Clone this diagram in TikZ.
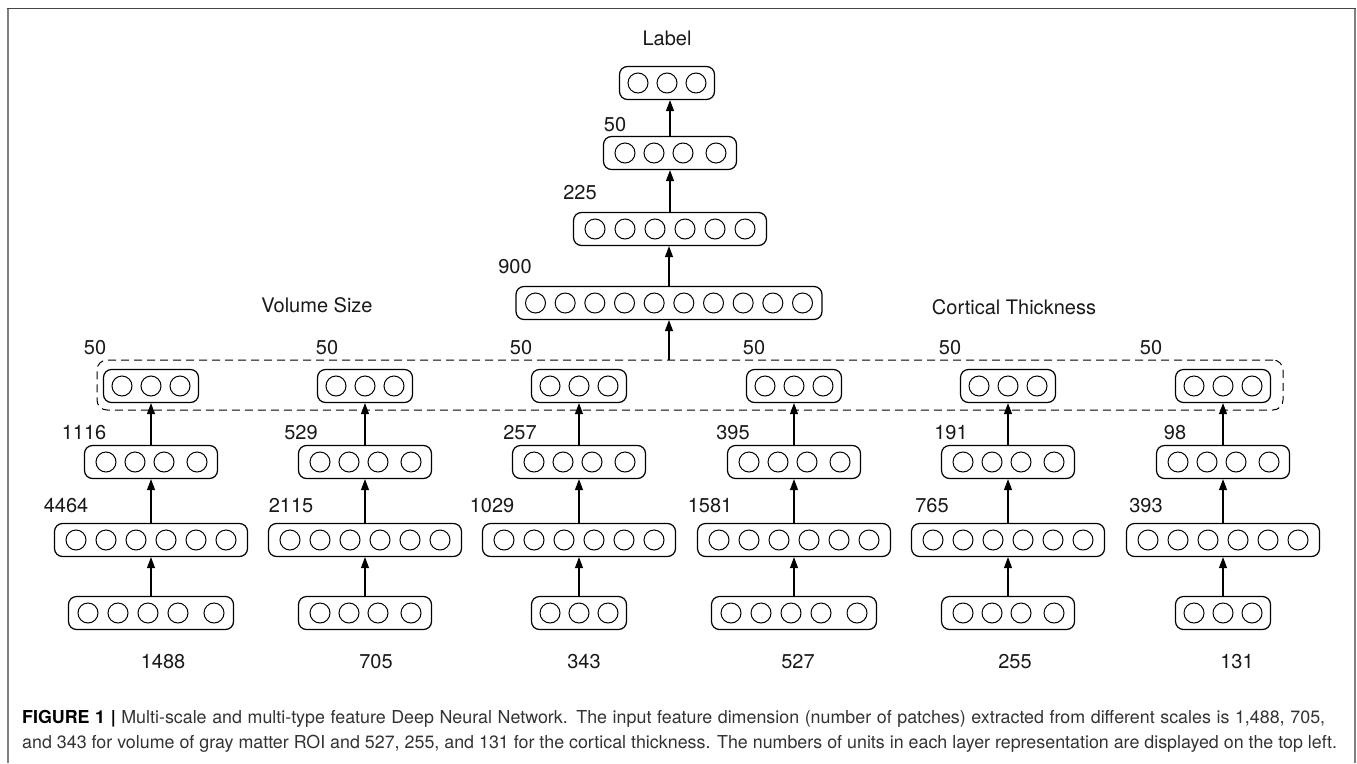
\documentclass[tikz,border=0pt]{standalone}
\usepackage{fontspec}
\setmainfont{TeX Gyre Heros}
\usetikzlibrary{arrows.meta}

\tikzset{
  layer/.style={draw, line width=1.2pt, rounded corners=8pt, minimum height=33pt, inner sep=0pt},
  unit/.style={line width=1pt},
  up/.style={-{Triangle[length=11pt,width=8pt]}, line width=1.1pt},
  count/.style={font=\fontsize{20}{22}\selectfont, text=black!90, inner sep=0pt},
  caption/.style={anchor=base west, inner sep=0pt, font=\fontsize{17.85}{19}\selectfont, text=black!80},
}
% circle offsets inside a layer box
\def\unitsiii{-29,0,29}
\def\unitsiv{-45,-16,13,46}
\def\unitsv{-63,-33,-3,27,63}
\def\unitsvi{-75,-45,-15,15,45,75}
\def\unitsx{-133.5,-103.83,-74.17,-44.5,-14.83,14.83,44.5,74.17,103.83,133.5}
% name, x, y, width, circle offsets
\newcommand{\layerbox}[5]{%
  \node[layer, minimum width=#4pt] (#1) at (#2,#3) {};
  \foreach \dx in #5 \draw[unit] (#2+\dx,#3) circle (10pt);
}

\begin{document}
\begin{tikzpicture}[x=1pt, y=-1pt]
  \useasboundingbox (0,0) rectangle (1357,763);
  % frame
  \draw[gray!55!black, line width=1.4pt] (7,8.5) -- (1356,8.5);
  \draw[gray, line width=1.6pt] (7.8,9.2) -- (7.8,763);
  \draw[gray, line width=1.6pt] (1355,9.2) -- (1355,763);

  % joint part
  \node[count] (lbl) at (667,38) {Label};
  \layerbox{out}{667}{83}{95}{\unitsiii}
  \node[count] (n50) at (615,125) {50};
  \layerbox{h50}{670}{153}{133}{\unitsiv}
  \node[count] (n225) at (580,193) {225};
  \layerbox{h225}{670}{229}{193}{\unitsvi}
  \node[count] (n900) at (515,267) {900};
  \layerbox{h900}{669}{303}{306}{\unitsx}
  \draw[up] (h50.north) -- (h50.north |- out.south);
  \draw[up] (h225.north) -- (h225.north |- h50.south);
  \draw[up] (h900.north) -- (h900.north |- h225.south);

  \node[count] (vol) at (317,305) {Volume Size};
  \node[count] (cort) at (1014,307) {Cortical Thickness};
  \node[draw, dashed, dash pattern=on 8pt off 5pt, line width=1pt, rounded corners=10pt,
    minimum width=1186pt, minimum height=50pt] (merge) at (690,385) {};
  \draw[up] (merge.north -| h900.south) -- (h900.south);

  % columns: input, 6 units, 4 units, 3 units
  \layerbox{inA}{151}{613}{165}{\unitsv}
  \layerbox{hiA}{151}{540}{193}{\unitsvi}
  \layerbox{hiiA}{151}{462}{133}{\unitsiv}
  \layerbox{topA}{151}{386}{95}{\unitsiii}
  \layerbox{inB}{365}{613}{133}{\unitsiv}
  \layerbox{hiB}{365}{540}{193}{\unitsvi}
  \layerbox{hiiB}{365}{462}{133}{\unitsiv}
  \layerbox{topB}{365}{386}{95}{\unitsiii}
  \layerbox{inC}{579}{613}{95}{\unitsiii}
  \layerbox{hiC}{579}{540}{193}{\unitsvi}
  \layerbox{hiiC}{579}{462}{133}{\unitsiv}
  \layerbox{topC}{579}{386}{95}{\unitsiii}
  \layerbox{inD}{794}{613}{165}{\unitsv}
  \layerbox{hiD}{794}{540}{193}{\unitsvi}
  \layerbox{hiiD}{794}{462}{133}{\unitsiv}
  \layerbox{topD}{794}{386}{95}{\unitsiii}
  \layerbox{inE}{1008}{613}{133}{\unitsiv}
  \layerbox{hiE}{1008}{540}{193}{\unitsvi}
  \layerbox{hiiE}{1008}{462}{133}{\unitsiv}
  \layerbox{topE}{1008}{386}{95}{\unitsiii}
  \layerbox{inF}{1223}{613}{95}{\unitsiii}
  \layerbox{hiF}{1223}{540}{193}{\unitsvi}
  \layerbox{hiiF}{1223}{462}{133}{\unitsiv}
  \layerbox{topF}{1223}{386}{95}{\unitsiii}
  \foreach \c in {A,B,C,D,E,F} {
    \draw[up] (in\c.north) -- (hi\c.south);
    \draw[up] (hi\c.north) -- (hii\c.south);
    \draw[up] (hii\c.north) -- (top\c.south);
  }

  % unit counts
  \node[count] (cA) at (95,348) {50};
  \node[count] (cB) at (327,348) {50};
  \node[count] (cC) at (521,348) {50};
  \node[count] (cD) at (754,348) {50};
  \node[count] (cE) at (950,348) {50};
  \node[count] (cF) at (1151,348) {50};
  \node[count] (bA) at (84,433) {1116};
  \node[count] (bB) at (301,433) {529};
  \node[count] (bC) at (520,433) {257};
  \node[count] (bD) at (733,433) {395};
  \node[count] (bE) at (951,433) {191};
  \node[count] (bF) at (1175,433) {98};
  \node[count] (aA) at (66,506) {4464};
  \node[count] (aB) at (291,506) {2115};
  \node[count] (aC) at (492,506) {1029};
  \node[count] (aD) at (710,506) {1581};
  \node[count] (aE) at (932,506) {765};
  \node[count] (aF) at (1146,506) {393};
  \node[count] (iA) at (163,662) {1488};
  \node[count] (iB) at (376,662) {705};
  \node[count] (iC) at (584,662) {343};
  \node[count] (iD) at (798,662) {527};
  \node[count] (iE) at (1015,662) {255};
  \node[count] (iF) at (1237,662) {131};

  % caption
  \node[caption] (cap1) at (22,723) {\makebox[1303pt][s]{\textbf{\textcolor{black}{FIGURE 1 |}} Multi-scale and multi-type feature Deep Neural Network. The input feature dimension (number of patches) extracted from different scales is 1,488, 705,}};
  \node[caption] (cap2) at (22,748) {and 343 for volume of gray matter ROI and 527, 255, and 131 for the cortical thickness. The numbers of units in each layer representation are displayed on the top left.};
\end{tikzpicture}
\end{document}
